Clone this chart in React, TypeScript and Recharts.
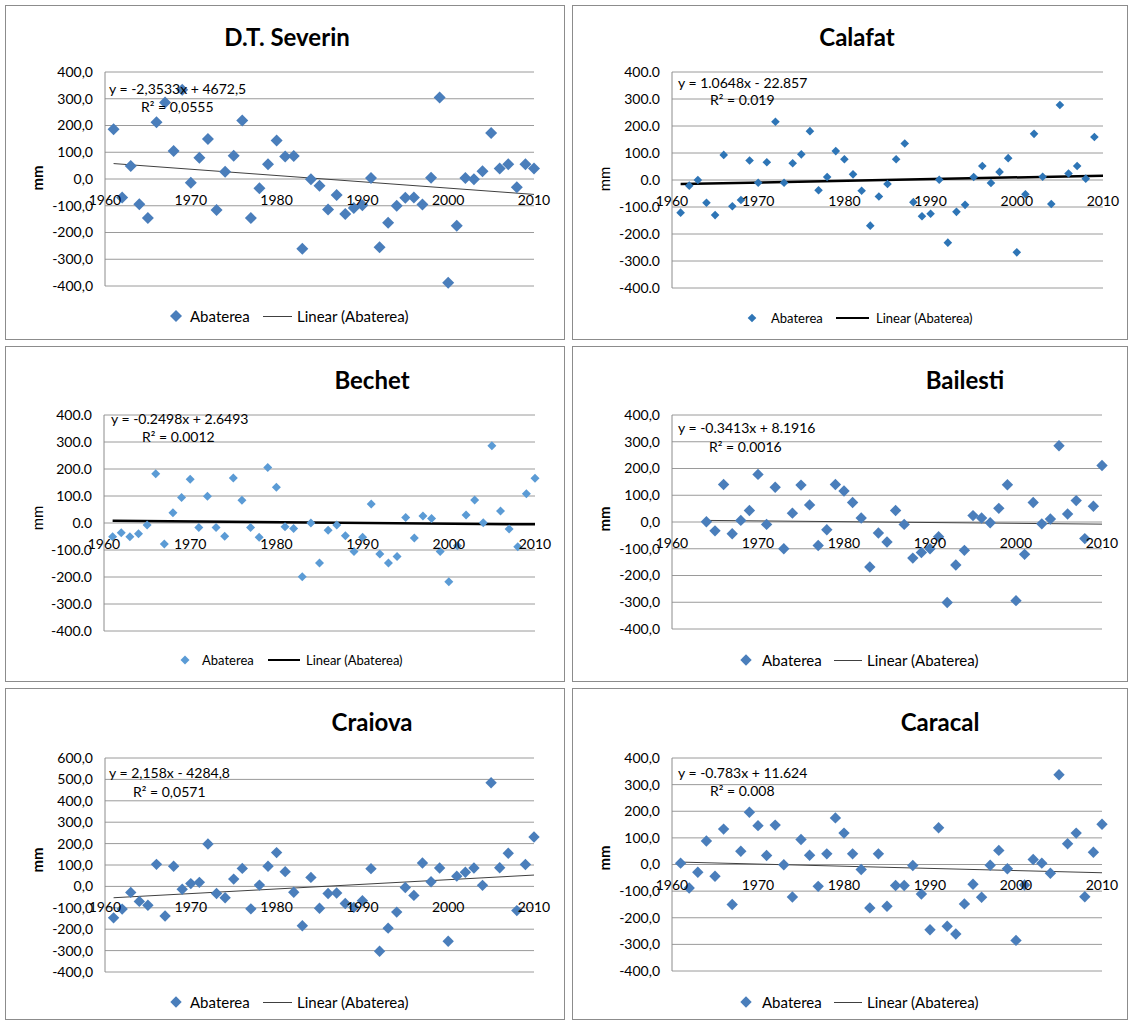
import React from 'react';
import { ScatterChart, Scatter, XAxis, YAxis, CartesianGrid, ReferenceLine } from 'recharts';

// ---------- DATA ----------
const years1961to2010 = [
  1961, 1962, 1963, 1964, 1965, 1966, 1967, 1968, 1969, 1970,
  1971, 1972, 1973, 1974, 1975, 1976, 1977, 1978, 1979, 1980,
  1981, 1982, 1983, 1984, 1985, 1986, 1987, 1988, 1989, 1990,
  1991, 1992, 1993, 1994, 1995, 1996, 1997, 1998, 1999, 2000,
  2001, 2002, 2003, 2004, 2005, 2006, 2007, 2008, 2009, 2010,
];
const years1961to2009 = [
  1961, 1962, 1963, 1964, 1965, 1966, 1967, 1968, 1969, 1970,
  1971, 1972, 1973, 1974, 1975, 1976, 1977, 1978, 1979, 1980,
  1981, 1982, 1983, 1984, 1985, 1986, 1987, 1988, 1989, 1990,
  1991, 1992, 1993, 1994, 1995, 1996, 1997, 1998, 1999, 2000,
  2001, 2002, 2003, 2004, 2005, 2006, 2007, 2008, 2009,
];
const years1964to2010 = [
  1964, 1965, 1966, 1967, 1968, 1969, 1970,
  1971, 1972, 1973, 1974, 1975, 1976, 1977, 1978, 1979, 1980,
  1981, 1982, 1983, 1984, 1985, 1986, 1987, 1988, 1989, 1990,
  1991, 1992, 1993, 1994, 1995, 1996, 1997, 1998, 1999, 2000,
  2001, 2002, 2003, 2004, 2005, 2006, 2007, 2008, 2009, 2010,
];

const xTickYears = [1960, 1970, 1980, 1990, 2000, 2010];
const yTicks400 = [-400, -300, -200, -100, 0, 100, 200, 300, 400];
const yTicks600 = [-400, -300, -200, -100, 0, 100, 200, 300, 400, 500, 600];

const severinValues = [
  186, -69, 49, -94, -146, 212, 286, 105, 334, -14,
  79, 150, -116, 27, 87, 219, -146, -35, 55, 144,
  84, 86, -261, -1, -25, -114, -60, -131, -108, -98,
  4, -255, -164, -100, -70, -69, -95, 5, 305, -388,
  -175, 4, -1, 29, 172, 39, 55, -31, 55, 39,
];
const calafatValues = [
  -121, -21, 0, -84, -130, 93, -97, -74, 72, -10,
  66, 216, -10, 62, 95, 181, -38, 11, 107, 77,
  21, -40, -169, -61, -15, 77, 135, -82, -134, -125,
  1, -232, -118, -92, 11, 52, -11, 30, 81, -268,
  -53, 171, 12, -89, 278, 24, 52, 5, 159,
];
const bechetValues = [
  -51, -36, -51, -40, -7, 182, -78, 38, 94, 162,
  -17, 99, -17, -49, 167, 84, -17, -53, 206, 132,
  -14, -20, -199, 0, -148, -27, -7, -47, -106, -53,
  70, -115, -148, -124, 20, -56, 26, 17, -106, -218,
  -84, 30, 85, 1, 286, 44, -22, -88, 108, 166,
];
const bailestiValues = [
  1, -33, 140, -44, 6, 43, 178,
  -9, 130, -100, 33, 138, 64, -88, -29, 140, 116,
  73, 15, -168, -41, -75, 43, -9, -135, -114, -100,
  -55, -301, -161, -106, 24, 15, -3, 51, 139, -294,
  -121, 73, -7, 11, 285, 30, 80, -62, 59, 211,
];
const craiovaValues = [
  -147, -106, -28, -70, -88, 103, -138, 94, -13, 13,
  19, 198, -33, -53, 34, 84, -105, 6, 94, 158,
  69, -27, -184, 42, -102, -33, -31, -80, -98, -67,
  83, -303, -195, -120, -5, -42, 109, 22, 86, -256,
  48, 66, 86, 5, 484, 87, 155, -113, 102, 231,
];
const caracalValues = [
  5, -88, -29, 88, -44, 133, -150, 50, 196, 146,
  34, 148, -1, -122, 94, 35, -82, 40, 175, 118,
  40, -19, -163, 40, -157, -79, -79, -4, -111, -245,
  138, -232, -261, -148, -74, -123, -3, 53, -16, -285,
  -77, 19, 5, -33, 337, 78, 118, -121, 46, 151,
];

// trend line end points
const severinTrend = [{ x: 1961, y: 57.7 }, { x: 2010, y: -57.6 }];
const calafatTrend = [{ x: 1961, y: -15 }, { x: 2010, y: 16 }];
const bechetTrend = [{ x: 1961, y: 8 }, { x: 2010, y: -5 }];
const bailestiTrend = [{ x: 1964, y: 6 }, { x: 2010, y: -8 }];
const craiovaTrend = [{ x: 1961, y: -53 }, { x: 2010, y: 53 }];
const caracalTrend = [{ x: 1961, y: 9 }, { x: 2010, y: -31 }];

// ---------- STYLE / LAYOUT ----------
const FONT = 'Lato, "Open Sans", "DejaVu Sans", sans-serif';

type Box = { x: number; y: number; w: number; h: number };
type Plot = { left: number; right: number; top: number; bottom: number };
type TextAt = { x: number; y: number; text: string };
type PanelCfg = {
  box: Box;
  plot: Plot;
  yDomain: [number, number];
  yTicks: number[];
  sep: string;
  title: { cx: number; cy: number; text: string };
  mm: { cx: number; cy: number; bold: boolean };
  eq: TextAt;
  r2: TextAt;
  legend: { y: number; markerX: number; text1X: number; lineX1: number; lineX2: number; text2X: number; fs: number };
  years: number[];
  values: number[];
  trend: { x: number; y: number }[];
  trendW: number;
  trendColor: string;
  markerR: number;
  markerColor: string;
};

const Diamond = (props: any) => {
  const { cx, cy, r, fill } = props;
  if (cx == null || cy == null) return <g />;
  return (
    <polygon
      points={`${cx},${cy - r} ${cx + r},${cy} ${cx},${cy + r} ${cx - r},${cy}`}
      fill={fill}
    />
  );
};

function Panel({ c }: { c: PanelCfg }) {
  const yAxisW = 70;
  const xAxisH = 30;
  const margin = {
    top: c.plot.top - c.box.y,
    right: c.box.x + c.box.w - c.plot.right,
    bottom: c.box.y + c.box.h - c.plot.bottom - xAxisH,
    left: c.plot.left - c.box.x - yAxisW,
  };
  const plotH = c.plot.bottom - c.plot.top;
  const [yMin, yMax] = c.yDomain;
  const zeroFromBottom = (plotH * (0 - yMin)) / (yMax - yMin);
  const data = c.years.map((x, i) => ({ x, y: c.values[i] }));

  const XTick = (tp: any) => (
    <text
      x={tp.x}
      y={tp.y - zeroFromBottom + 20}
      textAnchor="middle"
      dominantBaseline="central"
      fontSize={14}
      fontFamily={FONT}
      fill="#000"
    >
      {tp.payload.value}
    </text>
  );

  const fmt = (v: number) => v.toFixed(1).replace('.', c.sep);
  const abs = (x: number, y: number): React.CSSProperties => ({
    position: 'absolute',
    left: x,
    top: y,
  });

  const L = c.legend;
  return (
    <>
      <div
        style={{
          position: 'absolute',
          left: c.box.x,
          top: c.box.y,
          width: c.box.w,
          height: c.box.h,
          border: '1px solid #8c8c8c',
          boxSizing: 'border-box',
          background: '#fff',
        }}
      />
      <div style={abs(c.box.x, c.box.y)}>
        <ScatterChart width={c.box.w} height={c.box.h} margin={margin}>
          <CartesianGrid horizontal vertical={false} stroke="#9a9a9a" />
          <XAxis
            type="number"
            dataKey="x"
            domain={[1960, 2010]}
            ticks={xTickYears}
            interval={0}
            height={xAxisH}
            axisLine={false}
            tickLine={false}
            tickSize={0}
            tickMargin={0}
            tick={XTick}
          />
          <YAxis
            type="number"
            dataKey="y"
            domain={c.yDomain}
            ticks={c.yTicks}
            interval={0}
            width={yAxisW}
            axisLine={{ stroke: '#8c8c8c' }}
            tickLine={false}
            tickSize={0}
            tickMargin={12}
            tickFormatter={fmt}
            tick={{ fontSize: 14, fontFamily: FONT, fill: '#000' }}
          />
          <Scatter
            data={data}
            fill={c.markerColor}
            isAnimationActive={false}
            shape={(p: any) => <Diamond {...p} r={c.markerR} fill={c.markerColor} />}
          />
          <ReferenceLine
            segment={c.trend}
            stroke={c.trendColor}
            strokeWidth={c.trendW}
          />
        </ScatterChart>
      </div>

      {/* title */}
      <div
        style={{
          ...abs(c.title.cx - 150, c.title.cy - 15),
          width: 300,
          height: 30,
          lineHeight: '30px',
          textAlign: 'center',
          fontFamily: FONT,
          fontWeight: 700,
          fontSize: 24,
          color: '#000',
        }}
      >
        {c.title.text}
      </div>

      {/* y axis label */}
      <div
        style={{
          ...abs(c.mm.cx - 20, c.mm.cy - 10),
          width: 40,
          height: 20,
          lineHeight: '20px',
          textAlign: 'center',
          fontFamily: FONT,
          fontWeight: c.mm.bold ? 700 : 400,
          fontSize: 15,
          transform: 'rotate(-90deg)',
          color: '#000',
        }}
      >
        mm
      </div>

      {/* trend equation */}
      {[c.eq, c.r2].map((t, i) => (
        <div
          key={i}
          style={{
            ...abs(t.x, t.y - 10),
            height: 20,
            lineHeight: '20px',
            whiteSpace: 'nowrap',
            fontFamily: FONT,
            fontSize: 14,
            color: '#000',
          }}
        >
          {t.text}
        </div>
      ))}

      {/* legend */}
      <svg
        style={abs(L.markerX - 8, L.y - 8)}
        width={16}
        height={16}
      >
        <Diamond cx={8} cy={8} r={c.markerR} fill={c.markerColor} />
      </svg>
      <div
        style={{
          ...abs(L.text1X, L.y - 10),
          height: 20,
          lineHeight: '20px',
          whiteSpace: 'nowrap',
          fontFamily: FONT,
          fontSize: L.fs,
          color: '#000',
        }}
      >
        Abaterea
      </div>
      <div
        style={{
          ...abs(L.lineX1, L.y - c.trendW / 2),
          width: L.lineX2 - L.lineX1,
          height: c.trendW,
          background: c.trendColor,
        }}
      />
      <div
        style={{
          ...abs(L.text2X, L.y - 10),
          height: 20,
          lineHeight: '20px',
          whiteSpace: 'nowrap',
          fontFamily: FONT,
          fontSize: L.fs,
          color: '#000',
        }}
      >
        Linear (Abaterea)
      </div>
    </>
  );
}

const panels: PanelCfg[] = [
  {
    box: { x: 5, y: 5, w: 560, h: 335 },
    plot: { left: 105, right: 534, top: 72, bottom: 286 },
    yDomain: [-400, 400],
    yTicks: yTicks400,
    sep: ',',
    title: { cx: 287, cy: 37, text: 'D.T. Severin' },
    mm: { cx: 37, cy: 178, bold: true },
    eq: { x: 109, y: 89, text: 'y = -2,3533x + 4672,5' },
    r2: { x: 141, y: 107, text: 'R² = 0,0555' },
    legend: { y: 316, markerX: 176, text1X: 190, lineX1: 263, lineX2: 292, text2X: 297, fs: 15 },
    years: years1961to2010,
    values: severinValues,
    trend: severinTrend,
    trendW: 1,
    trendColor: '#404040',
    markerR: 6,
    markerColor: '#4a7ebb',
  },
  {
    box: { x: 572, y: 5, w: 556, h: 335 },
    plot: { left: 672, right: 1103, top: 72, bottom: 288 },
    yDomain: [-400, 400],
    yTicks: yTicks400,
    sep: '.',
    title: { cx: 857, cy: 37, text: 'Calafat' },
    mm: { cx: 604, cy: 179, bold: false },
    eq: { x: 678, y: 83, text: 'y = 1.0648x - 22.857' },
    r2: { x: 710, y: 100, text: 'R² = 0.019' },
    legend: { y: 318, markerX: 752, text1X: 771, lineX1: 836, lineX2: 869, text2X: 876, fs: 13 },
    years: years1961to2009,
    values: calafatValues,
    trend: calafatTrend,
    trendW: 2.5,
    trendColor: '#000',
    markerR: 4.3,
    markerColor: '#2e75b6',
  },
  {
    box: { x: 5, y: 346, w: 560, h: 336 },
    plot: { left: 104, right: 535, top: 415, bottom: 631 },
    yDomain: [-400, 400],
    yTicks: yTicks400,
    sep: '.',
    title: { cx: 372, cy: 380, text: 'Bechet' },
    mm: { cx: 37, cy: 518, bold: false },
    eq: { x: 111, y: 419, text: 'y = -0.2498x + 2.6493' },
    r2: { x: 142, y: 437, text: 'R² = 0.0012' },
    legend: { y: 660, markerX: 185, text1X: 202, lineX1: 268, lineX2: 300, text2X: 306, fs: 13 },
    years: years1961to2010,
    values: bechetValues,
    trend: bechetTrend,
    trendW: 2.5,
    trendColor: '#000',
    markerR: 4.5,
    markerColor: '#5b9bd5',
  },
  {
    box: { x: 572, y: 346, w: 556, h: 336 },
    plot: { left: 672, right: 1102, top: 415, bottom: 629 },
    yDomain: [-400, 400],
    yTicks: yTicks400,
    sep: ',',
    title: { cx: 965, cy: 380, text: 'Bailesti' },
    mm: { cx: 604, cy: 519, bold: true },
    eq: { x: 678, y: 428, text: 'y = -0.3413x + 8.1916' },
    r2: { x: 709, y: 447, text: 'R² = 0.0016' },
    legend: { y: 660, markerX: 746, text1X: 762, lineX1: 834, lineX2: 862, text2X: 867, fs: 15 },
    years: years1964to2010,
    values: bailestiValues,
    trend: bailestiTrend,
    trendW: 1,
    trendColor: '#404040',
    markerR: 5.7,
    markerColor: '#4a7ebb',
  },
  {
    box: { x: 5, y: 688, w: 560, h: 332 },
    plot: { left: 105, right: 534, top: 758, bottom: 972 },
    yDomain: [-400, 600],
    yTicks: yTicks600,
    sep: ',',
    title: { cx: 372, cy: 722, text: 'Craiova' },
    mm: { cx: 37, cy: 860, bold: true },
    eq: { x: 109, y: 773, text: 'y = 2,158x - 4284,8' },
    r2: { x: 133, y: 792, text: 'R² = 0,0571' },
    legend: { y: 1002, markerX: 176, text1X: 190, lineX1: 263, lineX2: 292, text2X: 297, fs: 15 },
    years: years1961to2010,
    values: craiovaValues,
    trend: craiovaTrend,
    trendW: 1,
    trendColor: '#404040',
    markerR: 5.7,
    markerColor: '#4a7ebb',
  },
  {
    box: { x: 572, y: 688, w: 556, h: 332 },
    plot: { left: 672, right: 1102, top: 758, bottom: 971 },
    yDomain: [-400, 400],
    yTicks: yTicks400,
    sep: ',',
    title: { cx: 940, cy: 722, text: 'Caracal' },
    mm: { cx: 604, cy: 858, bold: true },
    eq: { x: 678, y: 773, text: 'y = -0.783x + 11.624' },
    r2: { x: 710, y: 791, text: 'R² = 0.008' },
    legend: { y: 1002, markerX: 746, text1X: 762, lineX1: 834, lineX2: 862, text2X: 867, fs: 15 },
    years: years1961to2010,
    values: caracalValues,
    trend: caracalTrend,
    trendW: 1,
    trendColor: '#404040',
    markerR: 5.7,
    markerColor: '#4a7ebb',
  },
];

export default function App() {
  return (
    <div
      style={{
        position: 'absolute',
        left: 0,
        top: 0,
        width: 1130,
        height: 1023,
        background: '#fff',
        overflow: 'hidden',
      }}
    >
      {panels.map((c, i) => (
        <Panel key={i} c={c} />
      ))}
    </div>
  );
}
